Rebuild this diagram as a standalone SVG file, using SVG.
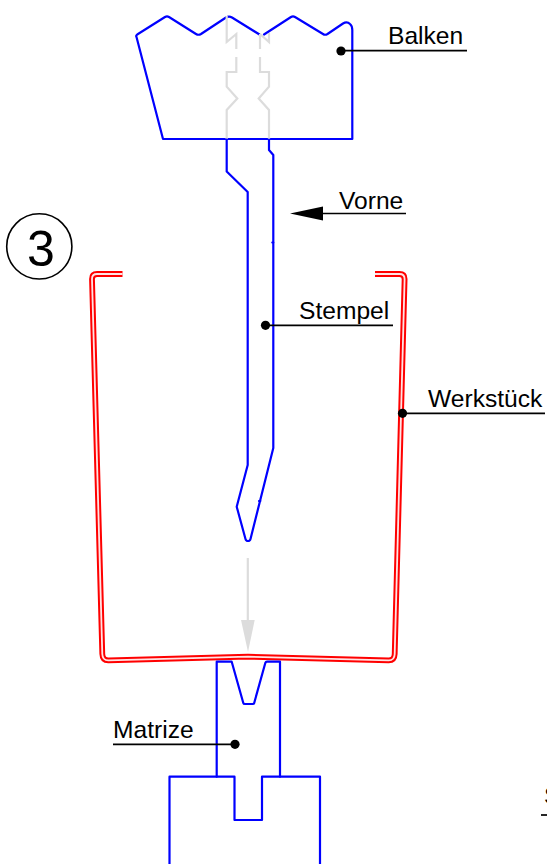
<svg xmlns="http://www.w3.org/2000/svg" width="547" height="864" viewBox="0 0 547 864">
<style>
.blue{fill:none;stroke:#0000ff;stroke-width:2.2;stroke-linejoin:round;stroke-linecap:round}
.grey{fill:none;stroke:#dcdcdc;stroke-width:2.2}
.lead{fill:none;stroke:#000;stroke-width:1.7}
.dot{fill:#000}
text{font-family:"Liberation Sans",Arial,sans-serif;font-size:24.6px;fill:#000}
</style>
<rect width="547" height="864" fill="#fff"/>
<g id="step">
<circle cx="39.3" cy="246.4" r="32.6" fill="none" stroke="#000" stroke-width="1.6"/>
<text x="41" y="266" text-anchor="middle" style="font-size:50px">3</text>
</g>
<g id="werkstueck">
<path d="M122.5,274 H97 Q92,274 92,279 L102.3,654 Q102.5,660.5 108.5,660.4 L248,656.7 L388.5,660.4 Q394.5,660.5 394.7,654 L404.6,279 Q404.6,274 399.5,274 H375" fill="none" stroke="#ff0000" stroke-width="5.8"/>
<path d="M122.5,274 H97 Q92,274 92,279 L102.3,654 Q102.5,660.5 108.5,660.4 L248,656.7 L388.5,660.4 Q394.5,660.5 394.7,654 L404.6,279 Q404.6,274 399.5,274 H375" fill="none" stroke="#ffe4e4" stroke-width="1.8"/>
</g>
<g id="balken">
<path class="blue" d="M136.5,37 Q135.5,35.5 138,34 L165,17 Q167,15.8 169,17 L196,34 Q198.5,35.5 201,34 L226,17.5 Q229,15.8 232,17.5 L259.5,34.5 M264,34.5 L291,17 Q293,15.8 295,17 L323,34 Q325,35.5 327.5,34 L343,23.5 Q347,21 350,24 Q352.3,26 352.3,30 V139 H163 L136.5,37"/>
<path class="grey" d="M226.7,16 V42 L236.3,34 V49 M236.3,57 V72 H226.7 V86.7 L237.3,98.5 L226.7,110 V139"/>
<path class="grey" d="M260,34 V49 M260,57 V72 H269 V86.7 L258.7,98.5 L269,110 V139 M260,34 L269,42 V33"/>
</g>
<g id="stempel">
<path class="blue" d="M226.7,139.5 V171.5 L247.7,192 V465 L236.7,506.7 L245.5,539 Q246,541 248,541 Q250,541 250.5,539 L273.3,448 V155 L269,150 V139.5"/>
<path class="blue" d="M272.3,242.5 H273.3 M259,501 H260.3"/>
</g>
<g id="matrize">
<path class="blue" d="M216.7,776.7 V661.7 H231.7 L243.3,703 Q243.5,704 245,704 H252.5 Q254,704 254.2,703 L265.3,663 Q265.8,661.7 267,661.7 H280 V776.7"/>
<path class="blue" d="M169.5,864 V776.7 H234.5 V820 H262 V776.7 H320 V864"/>
</g>
<g id="connectors">
<path class="grey" d="M247.8,558 V622"/>
<polygon points="241,620 254.7,620 248,652" fill="#dcdcdc"/>
<path class="lead" d="M341,50.7 H467"/>
<circle class="dot" cx="341" cy="51" r="4.6"/>
<path class="lead" d="M320,213.5 H406"/>
<polygon points="290,213.5 323,206.5 323,220.5" fill="#000"/>
<path class="lead" d="M265.5,325.3 H393"/>
<circle class="dot" cx="265.5" cy="325.3" r="4.6"/>
<path class="lead" d="M402.5,413.3 H545"/>
<circle class="dot" cx="402.5" cy="413.3" r="4.6"/>
<path class="lead" d="M113,744.3 H235"/>
<circle class="dot" cx="235" cy="744.3" r="4.6"/>
<path class="lead" d="M541,815 H547"/>
</g>
<g id="labels">
<text x="388" y="44">Balken</text>
<text x="339" y="209">Vorne</text>
<text x="299" y="319">Stempel</text>
<text x="428" y="407">Werkstück</text>
<text x="113" y="738">Matrize</text>
<text x="544" y="804">S</text>
</g>
</svg>
